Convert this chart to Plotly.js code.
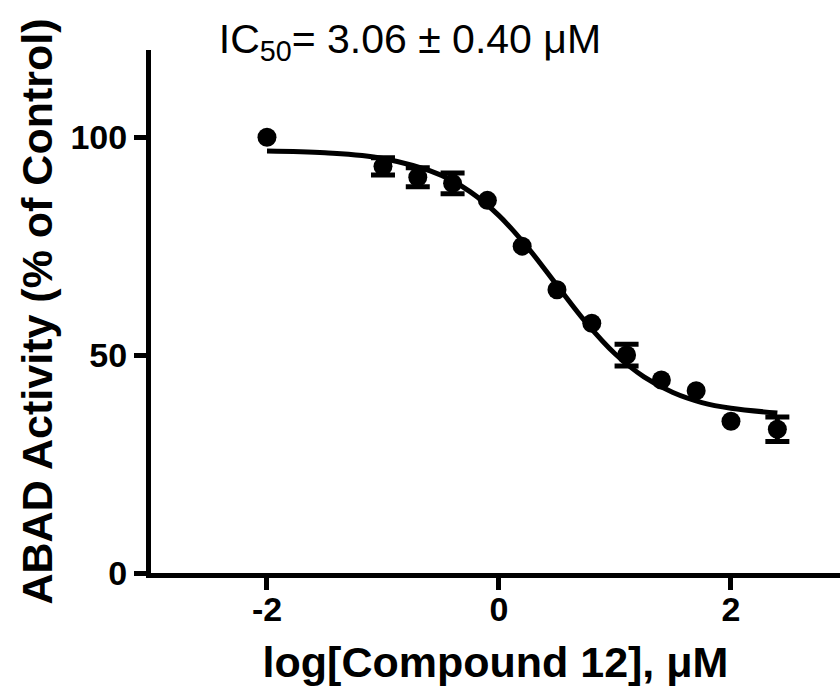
<!DOCTYPE html>
<html>
<head>
<meta charset="utf-8">
<script src="https://cdn.plot.ly/plotly-3.0.1.min.js"></script>
<style>html,body{margin:0;padding:0;background:#fff;}#chart{width:840px;height:700px;}</style>
</head>
<body>
<div id="chart"></div>
<script>
// Measured points (log concentration, % of control, SEM; null = no visible error bar)
const logConc = [-2, -1, -0.7, -0.4, -0.1, 0.2, 0.5, 0.8, 1.1, 1.4, 1.7, 2.0, 2.4];
const activity = [100, 93.3, 90.8, 89.4, 85.5, 75.0, 65.0, 57.3, 50.0, 44.3, 41.8, 34.8, 33.0];
const sem = [null, 2.0, 2.2, 2.4, null, null, null, null, 2.5, null, null, null, 2.8];

// Fitted curve
const fitX = [-2, -1.5, -1, -0.5, -0.25, 0, 0.25, 0.5, 0.75, 1.0, 1.25, 1.5, 1.75, 2.0, 2.4];
const fitY = [96.8, 96.4, 95.1, 91.3, 87.5, 82.0, 74.6, 66.0, 57.5, 50.3, 45.0, 41.4, 39.1, 37.8, 36.7];

const xTicks = [-2, 0, 2];
const yTicks = [0, 50, 100];

const FAM = 'Liberation Sans, Arial, sans-serif';
const axisFont = {family: FAM, size: 34, color: '#000', weight: 'bold'};
const titleFont = {family: FAM, size: 43, color: '#000', weight: 'bold'};

// points that carry an error bar
const errIdx = sem.map((s, i) => s == null ? -1 : i).filter(i => i >= 0);

const data = [
  {
    x: fitX, y: fitY, type: 'scatter', mode: 'lines',
    line: {color: '#000', width: 5, shape: 'spline', smoothing: 1},
    hoverinfo: 'skip', showlegend: false
  },
  {
    x: errIdx.map(i => logConc[i]), y: errIdx.map(i => activity[i]),
    type: 'scatter', mode: 'markers',
    marker: {color: '#000', size: 1, opacity: 0},
    error_y: {type: 'data', array: errIdx.map(i => sem[i]), visible: true, color: '#000', thickness: 5, width: 12},
    hoverinfo: 'skip', showlegend: false
  },
  {
    x: logConc, y: activity, type: 'scatter', mode: 'markers',
    marker: {color: '#000', size: 19},
    showlegend: false
  }
];

const layout = {
  width: 840, height: 700,
  paper_bgcolor: '#fff', plot_bgcolor: '#fff',
  margin: {l: 151, r: 0, t: 50, b: 127, pad: 0},
  showlegend: false,
  title: {
    text: 'IC<sub>50</sub>= 3.06 ± 0.40 μM',
    font: {family: FAM, size: 41, color: '#000'},
    x: 0.488, xref: 'container', xanchor: 'center',
    y: 0.945, yref: 'container', yanchor: 'middle'
  },
  xaxis: {
    range: [-3, 2.94],
    tickvals: xTicks, ticktext: xTicks.map(String),
    ticks: 'outside', ticklen: 12, tickwidth: 5, tickcolor: '#000',
    ticklabelstandoff: -10,
    showline: true, linecolor: '#000', linewidth: 5,
    showgrid: false, zeroline: false,
    tickfont: axisFont,
    automargin: false,
    title: {text: 'log[Compound 12], μM', font: titleFont, standoff: 22}
  },
  yaxis: {
    range: [0, 120],
    tickvals: yTicks, ticktext: yTicks.map(String),
    ticks: 'outside', ticklen: 12, tickwidth: 5, tickcolor: '#000',
    showline: true, linecolor: '#000', linewidth: 5,
    showgrid: false, zeroline: false,
    tickfont: axisFont,
    automargin: false,
    title: {text: 'ABAD Activity (% of Control)', font: titleFont, standoff: 6}
  }
};

Plotly.newPlot('chart', data, layout, {staticPlot: true, displayModeBar: false});
</script>
</body>
</html>
